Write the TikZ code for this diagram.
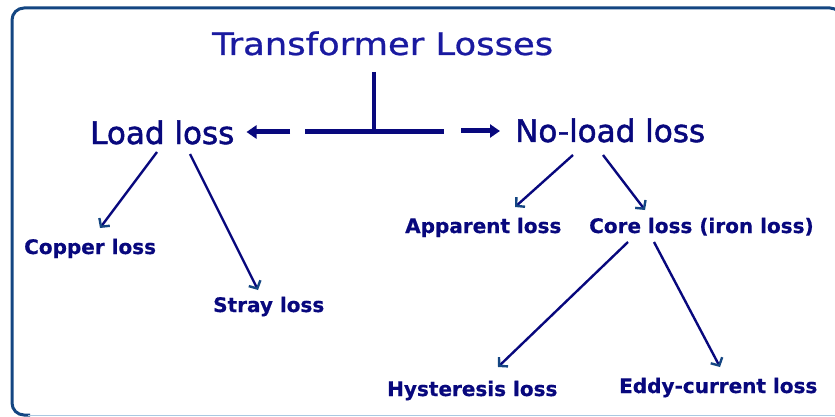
\documentclass[tikz,border=0pt]{standalone}
\usepackage{fontspec}
\setmainfont{DejaVu Sans}
\newfontfamily\bigfont[FakeBold=1.6]{DejaVu Sans}
\newfontfamily\titlefont[FakeBold=0.8]{DejaVu Sans}
\newfontfamily\smallfont[FakeBold=0.6]{DejaVu Sans Bold}
\usepackage{graphicx}
\usetikzlibrary{arrows.meta,calc}
\definecolor{titlecol}{RGB}{26,26,160}
\definecolor{navy}{RGB}{8,8,125}
\definecolor{headcol}{RGB}{20,70,130}
\definecolor{framedark}{RGB}{20,70,130}
\definecolor{framelight}{RGB}{170,200,225}
\begin{document}
\begin{tikzpicture}[x=1pt,y=-1pt,
  titlestyle/.style={inner sep=0pt, anchor=base west, text=titlecol, font=\titlefont\fontsize{31}{36}\selectfont},
  big/.style={inner sep=0pt, anchor=base west, text=navy, font=\bigfont\fontsize{31}{36}\selectfont},
  small/.style={inner sep=0pt, anchor=base west, text=navy, font=\smallfont\fontsize{20}{24}\selectfont},
  thinarrow/.style={draw=navy, line width=2.4pt, -{Straight Barb[length=6pt,width=13pt,color=headcol]}},
  thickline/.style={draw=navy, line width=5pt},
  stemline/.style={draw=navy, line width=4pt},
  thickarrow/.style={draw=navy, line width=5pt, -{Triangle[length=10pt,width=13pt]}}]
\useasboundingbox (0,0) rectangle (835,417);
% frame
\draw[framedark, line width=3pt, rounded corners=12pt] (30,415) -- (12,415) -- (12,8) -- (842,8) -- (842,415);
\draw[framelight, line width=1.2pt] (28,415.5) -- (835,415.5);
% nodes
\node[titlestyle] (title) at (212,55) {\scalebox{1.14}[1]{Transformer Losses}};
\node[big] (load) at (90,144) {Load loss};
\node[big] (noload) at (515,142) {No-load loss};
\node[small] (copper) at (24,254) {Copper loss};
\node[small] (stray) at (213,312) {Stray loss};
\node[small] (apparent) at (405,233) {Apparent loss};
\node[small] (core) at (589,233) {Core loss (iron loss)};
\node[small] (hyst) at (387,396) {Hysteresis loss};
\node[small] (eddy) at (619,393) {Eddy-current loss};
% T connector
\coordinate (j) at ($(title.base west)+(162,77)$);
\draw[stemline] ($(title.base west)+(162,17)$) -- (j);
\draw[thickline] ($(j)+(-69,0)$) -- ($(j)+(70,0)$);
\draw[thickarrow] ($(j)+(-84,0)$) -- ($(load.base east)+(12,-12)$);
\draw[thickarrow] ($(j)+(87,-1)$) -- ($(noload.base west)+(-15,-11)$);
% thin arrows
\draw[thinarrow] ($(load.base west)+(67,8)$) -- ($(copper.base west)+(76,-26)$);
\draw[thinarrow] ($(load.base west)+(100,10)$) -- ($(stray.base west)+(45,-22)$);
\draw[thinarrow] ($(noload.base west)+(58,13)$) -- ($(apparent.base west)+(110,-26)$);
\draw[thinarrow] ($(noload.base west)+(88,13)$) -- ($(core.base west)+(56,-23)$);
\draw[thinarrow] ($(core.base west)+(39,9)$) -- ($(hyst.base west)+(111,-29)$);
\draw[thinarrow] ($(core.base west)+(65,9)$) -- ($(eddy.base west)+(101,-26)$);
\end{tikzpicture}
\end{document}
